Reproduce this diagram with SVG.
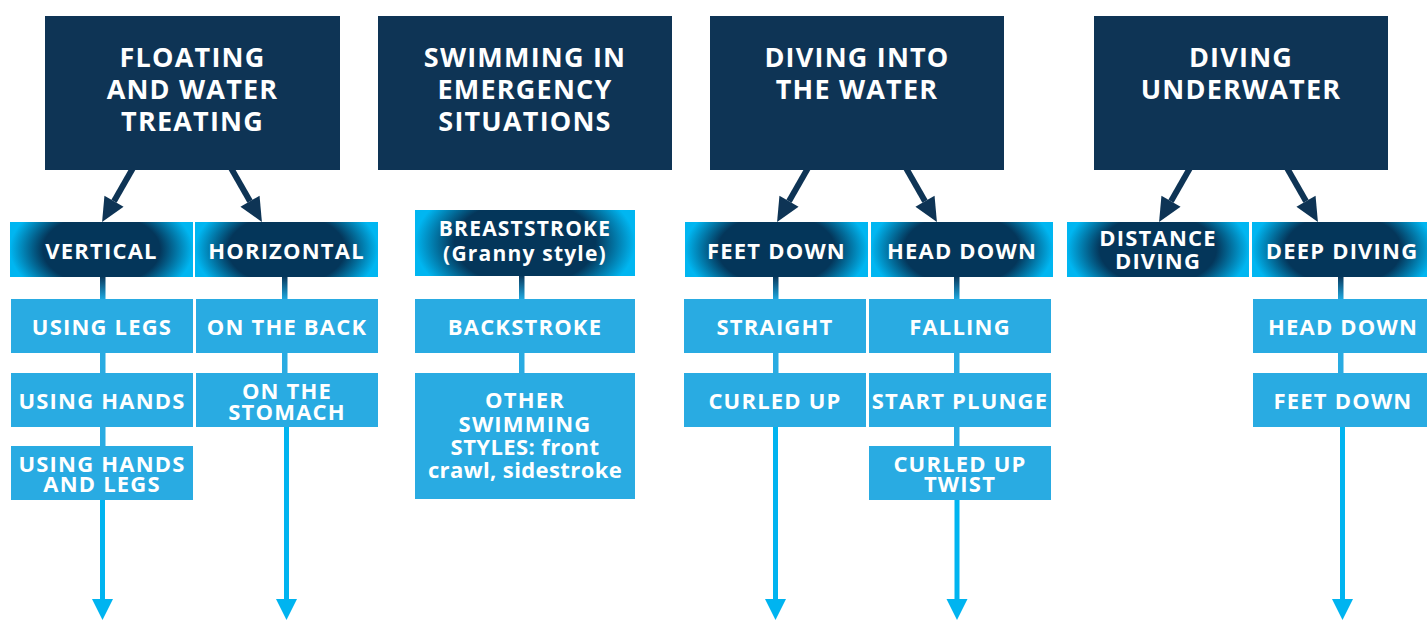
<svg xmlns="http://www.w3.org/2000/svg" width="1427" height="620" viewBox="0 0 1427 620">
<defs>
<radialGradient id="hg" cx="0.5" cy="0.5" r="0.5" gradientTransform="translate(0.5,0.5) scale(1,2) translate(-0.5,-0.5)">
<stop offset="0" stop-color="#04365A"/>
<stop offset="0.64" stop-color="#04365A"/>
<stop offset="1" stop-color="#00B6F1"/>
</radialGradient>
<linearGradient id="vg" x1="0" y1="0" x2="0" y2="1">
<stop offset="0" stop-color="#0A3A5E"/>
<stop offset="1" stop-color="#1FA8DF"/>
</linearGradient>
<marker id="dh" markerUnits="userSpaceOnUse" markerWidth="24" markerHeight="22" refX="0" refY="11" orient="auto" overflow="visible">
<path d="M0,0 L24,11 L0,22 z" fill="#0E3455"/>
</marker>
</defs>
<style>
.top{fill:#0E3455}
.hd{fill:url(#hg)}
.lb{fill:#29ABE2}
text{font-family:"Open Sans","DejaVu Sans",sans-serif;font-weight:700;fill:#FFFFFF;text-anchor:middle}
.t1{font-size:27px;letter-spacing:1.2px}
.t2{font-size:22px;letter-spacing:1.2px}
.lc{letter-spacing:0.4px}
.t3{font-size:21px;letter-spacing:1.2px}
.dark{stroke:#0E3455;stroke-width:6;fill:none}
.seg{fill:url(#vg)}
.lin{fill:#29ABE2}
.blu{fill:#00B4F0}
</style>
<g id="connectors">
<line class="dark" x1="133" y1="168" x2="114" y2="201.2" marker-end="url(#dh)"/>
<line class="dark" x1="231" y1="168" x2="250" y2="201.2" marker-end="url(#dh)"/>
<line class="dark" x1="808" y1="168" x2="789" y2="201.2" marker-end="url(#dh)"/>
<line class="dark" x1="906" y1="168" x2="925" y2="201.2" marker-end="url(#dh)"/>
<line class="dark" x1="1190" y1="168" x2="1171" y2="201.2" marker-end="url(#dh)"/>
<line class="dark" x1="1287" y1="168" x2="1306" y2="201.2" marker-end="url(#dh)"/>
<!-- col 1 -->
<rect class="seg" x="100" y="277" width="5.5" height="22"/>
<rect class="lin" x="100" y="353" width="5.5" height="93"/>
<rect class="blu" x="100" y="500" width="5" height="100"/>
<polygon class="blu" points="92,599 113,599 102.5,620"/>
<!-- col 2 -->
<rect class="seg" x="282" y="277" width="5.5" height="22"/>
<rect class="lin" x="282" y="353" width="5.5" height="20"/>
<rect class="blu" x="284" y="427" width="5" height="173"/>
<polygon class="blu" points="276,599 297,599 286.5,620"/>
<!-- col 3 -->
<rect class="seg" x="519" y="276" width="5.5" height="23"/>
<rect class="lin" x="519" y="353" width="5.5" height="20"/>
<!-- col 4 -->
<rect class="seg" x="773" y="277" width="5.5" height="22"/>
<rect class="lin" x="773" y="353" width="5.5" height="20"/>
<rect class="blu" x="773" y="427" width="5" height="173"/>
<polygon class="blu" points="765,599 786,599 775.5,620"/>
<!-- col 5 -->
<rect class="seg" x="954" y="277" width="5.5" height="22"/>
<rect class="lin" x="954" y="353" width="5.5" height="93"/>
<rect class="blu" x="954.5" y="500" width="5" height="100"/>
<polygon class="blu" points="946.5,599 967.5,599 957,620"/>
<!-- col 6 -->
<rect class="seg" x="1338" y="277" width="5.5" height="22"/>
<rect class="lin" x="1338" y="353" width="5.5" height="20"/>
<rect class="blu" x="1340" y="427" width="5" height="173"/>
<polygon class="blu" points="1332,599 1353,599 1342.5,620"/>
</g>
<g id="top1"><rect class="top" x="45" y="16" width="295" height="154"/>
<text class="t1" x="192.5" y="67">FLOATING</text><text class="t1" x="192.5" y="99">AND WATER</text><text class="t1" x="192.5" y="131">TREATING</text></g>
<g id="top2"><rect class="top" x="378" y="16" width="294" height="154"/>
<text class="t1" x="525" y="67">SWIMMING IN</text><text class="t1" x="525" y="99">EMERGENCY</text><text class="t1" x="525" y="131">SITUATIONS</text></g>
<g id="top3"><rect class="top" x="710" y="16" width="294" height="154"/>
<text class="t1" x="857" y="67">DIVING INTO</text><text class="t1" x="857" y="99">THE WATER</text></g>
<g id="top4"><rect class="top" x="1094" y="16" width="294" height="154"/>
<text class="t1" x="1241" y="67">DIVING</text><text class="t1" x="1241" y="99">UNDERWATER</text></g>

<g id="vertical"><rect class="hd" x="10" y="222" width="183" height="55"/><text class="t2" x="101.5" y="259">VERTICAL</text></g>
<g id="horizontal"><rect class="hd" x="195" y="222" width="183" height="55"/><text class="t2" x="286.5" y="259">HORIZONTAL</text></g>
<g id="breaststroke"><rect class="hd" x="415" y="210" width="220" height="66"/><text class="t3" x="525" y="236">BREASTSTROKE</text><text class="t3 lc" x="525" y="261">(Granny style)</text></g>
<g id="feetdown"><rect class="hd" x="685" y="222" width="183" height="55"/><text class="t2" x="776.5" y="259">FEET DOWN</text></g>
<g id="headdown"><rect class="hd" x="871" y="222" width="182" height="55"/><text class="t2" x="962" y="259">HEAD DOWN</text></g>
<g id="distancediving"><rect class="hd" x="1067" y="222" width="182" height="55"/><text class="t2" x="1158" y="246">DISTANCE</text><text class="t2" x="1158" y="268.7">DIVING</text></g>
<g id="deepdiving"><rect class="hd" x="1252" y="222" width="182" height="55"/><text class="t2" x="1342" y="259">DEEP DIVING</text></g>

<g id="usinglegs"><rect class="lb" x="11" y="299" width="182" height="54"/><text class="t2" x="102" y="335">USING LEGS</text></g>
<g id="usinghands"><rect class="lb" x="11" y="373" width="182" height="54"/><text class="t2" x="102" y="409">USING HANDS</text></g>
<g id="usinghandslegs"><rect class="lb" x="11" y="446" width="182" height="54"/><text class="t2" x="102" y="471.7">USING HANDS</text><text class="t2" x="102" y="492">AND LEGS</text></g>
<g id="ontheback"><rect class="lb" x="196" y="299" width="182" height="54"/><text class="t2" x="287" y="335">ON THE BACK</text></g>
<g id="onthestomach"><rect class="lb" x="196" y="373" width="182" height="54"/><text class="t2" x="287" y="399">ON THE</text><text class="t2" x="287" y="420">STOMACH</text></g>
<g id="backstroke"><rect class="lb" x="415" y="299" width="220" height="54"/><text class="t2" x="525" y="335">BACKSTROKE</text></g>
<g id="otherstyles"><rect class="lb" x="415" y="373" width="220" height="126"/><text class="t2" x="525" y="408">OTHER</text><text class="t2" x="525" y="432">SWIMMING</text><text class="t2 lc" x="525" y="455">STYLES: front</text><text class="t2 lc" x="525" y="478">crawl, sidestroke</text></g>
<g id="straight"><rect class="lb" x="684" y="299" width="182" height="54"/><text class="t2" x="775" y="335">STRAIGHT</text></g>
<g id="curledup"><rect class="lb" x="684" y="373" width="182" height="54"/><text class="t2" x="775" y="409">CURLED UP</text></g>
<g id="falling"><rect class="lb" x="869" y="299" width="182" height="54"/><text class="t2" x="960" y="335">FALLING</text></g>
<g id="startplunge"><rect class="lb" x="869" y="373" width="182" height="54"/><text class="t2" x="960" y="409">START PLUNGE</text></g>
<g id="curleduptwist"><rect class="lb" x="869" y="446" width="182" height="54"/><text class="t2" x="960" y="471.7">CURLED UP</text><text class="t2" x="960" y="492">TWIST</text></g>
<g id="headdown2"><rect class="lb" x="1253" y="299" width="174" height="54"/><text class="t2" x="1343" y="335">HEAD DOWN</text></g>
<g id="feetdown2"><rect class="lb" x="1253" y="373" width="174" height="54"/><text class="t2" x="1343" y="409">FEET DOWN</text></g>
</svg>
